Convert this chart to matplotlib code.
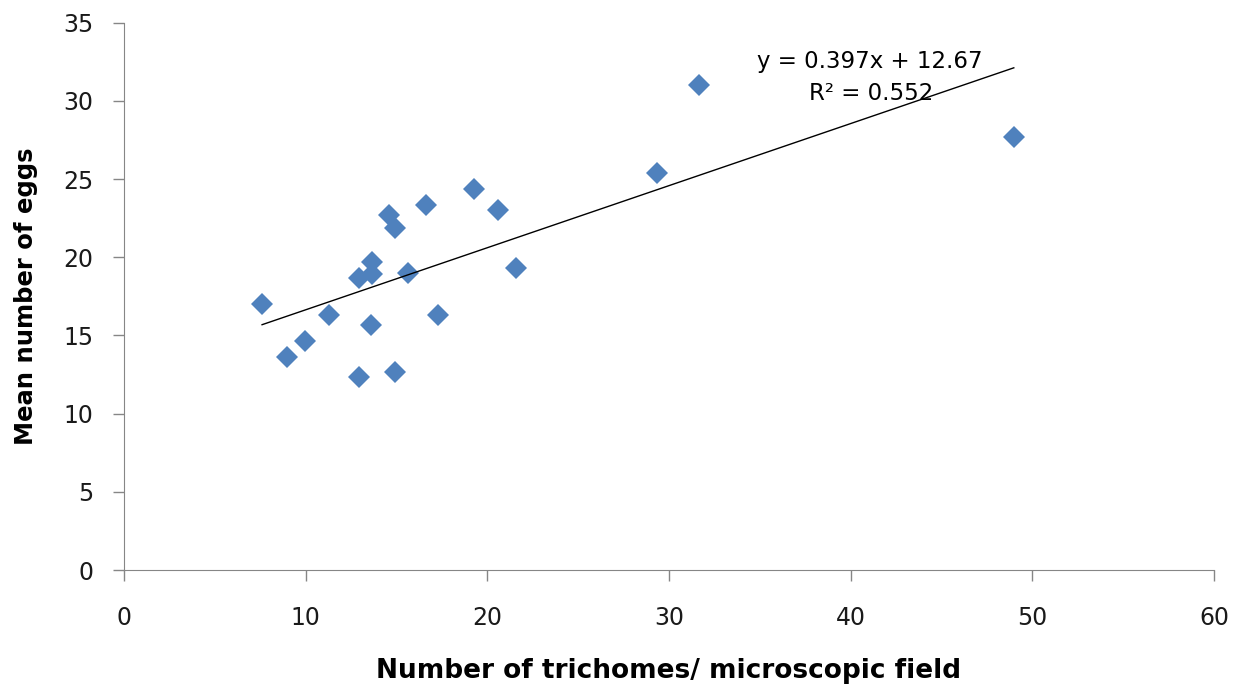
import numpy as np
import matplotlib.pyplot as plt

# data
trichomes = [7.6, 8.95, 9.96, 11.28, 12.93, 12.93, 13.63, 13.63, 13.58, 14.6, 14.93,
             14.93, 15.65, 16.62, 17.3, 19.28, 20.6, 21.57, 29.33, 31.64, 48.98]
eggs = [17.0, 13.64, 14.66, 16.31, 18.65, 12.32, 19.71, 18.95, 15.66, 22.7, 21.9,
        12.68, 19.0, 23.34, 16.3, 24.34, 23.0, 19.33, 25.4, 31.0, 27.7]
slope, intercept = 0.397, 12.67
r2 = 0.552

fig = plt.figure(figsize=(12.34, 6.87), dpi=100)
ax = fig.add_axes([124 / 1234, 1 - 570 / 687, (1214 - 124) / 1234, (570 - 22.7) / 687])

ax.plot(trichomes, eggs, 'D', color='#4F81BD', markersize=11.5, markeredgewidth=0)

# linear trendline
xl = np.array([min(trichomes), max(trichomes)])
ax.plot(xl, slope * xl + intercept, color='black', linewidth=1)

ax.text(41.05, 32.55, "y = 0.397x + 12.67", ha='center', va='center', fontsize=16.5)
ax.text(41.15, 30.5, "R² = 0.552", ha='center', va='center', fontsize=16.5)

ax.set_xlim(0, 60)
ax.set_ylim(0, 35)
ax.set_xticks(range(0, 61, 10))
ax.set_yticks(range(0, 36, 5))
for s in ['top', 'right']:
    ax.spines[s].set_visible(False)
for s in ['left', 'bottom']:
    ax.spines[s].set_color('#868686')
ax.tick_params(colors='#868686', labelcolor='#1a1a1a', labelsize=17, length=8, width=1)
ax.tick_params(axis='x', pad=18)
ax.tick_params(axis='y', pad=14)

ax.set_xlabel("Number of trichomes/ microscopic field", fontsize=19, fontweight='bold', labelpad=20)
ax.set_ylabel("Mean number of eggs", fontsize=17.5, fontweight='bold', labelpad=18)

plt.savefig("out.png", dpi=100)
